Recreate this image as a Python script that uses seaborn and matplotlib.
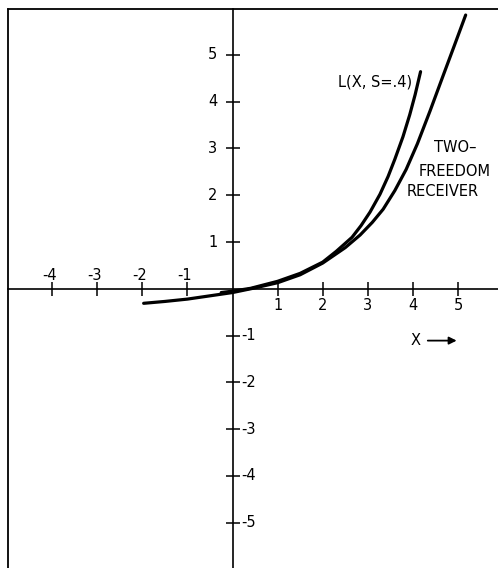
import matplotlib
matplotlib.use("Agg")
import matplotlib.pyplot as plt
import seaborn as sns
import pandas as pd

# Two-freedom receiver curve
tf_x = [-1.97, -1.5, -1.0, -0.5, 0.0, 0.5, 1.0, 1.5, 2.0, 2.5, 2.83, 3.1, 3.34,
        3.6, 3.85, 4.1, 4.38, 4.68, 4.92, 5.17]
tf_y = [-0.31, -0.27, -0.22, -0.15, -0.08, 0.02, 0.13, 0.30, 0.55, 0.88, 1.15,
        1.42, 1.70, 2.10, 2.55, 3.10, 3.80, 4.58, 5.20, 5.85]

# L(X, S=.4) curve
l_x = [-0.25, 0.0, 0.4, 1.0, 1.5, 2.0, 2.3, 2.65, 2.85, 3.05, 3.27, 3.45, 3.6,
       3.78, 3.93, 4.05, 4.17]
l_y = [-0.08, -0.05, 0.01, 0.16, 0.33, 0.57, 0.80, 1.10, 1.35, 1.64, 2.02,
       2.40, 2.77, 3.25, 3.72, 4.15, 4.64]

x_ticks = [-4, -3, -2, -1, 1, 2, 3, 4, 5]
y_ticks = [-5, -4, -3, -2, -1, 1, 2, 3, 4, 5]
x_tick_labels = ["-4", "-3", "-2", "-1", "1", "2", "3", "4", "5"]
y_tick_labels = ["-5", "-4", "-3", "-2", "-1", "1", "2", "3", "4", "5"]

curves = pd.concat([
    pd.DataFrame({"x": tf_x, "y": tf_y, "curve": "two-freedom"}),
    pd.DataFrame({"x": l_x, "y": l_y, "curve": "L"}),
], ignore_index=True)

sns.set_theme(style="white")
plt.rcParams["font.family"] = ["DejaVu Sans"]
plt.rcParams["text.color"] = "black"

W, H = 498, 568
fig = plt.figure(figsize=(W / 100, H / 100), dpi=100)
ax = fig.add_axes([8 / W, 0, (W - 8) / W, (H - 9) / H])

for name in ["two-freedom", "L"]:
    sns.lineplot(data=curves[curves["curve"] == name], x="x", y="y", ax=ax,
                 color="black", lw=2.3, sort=False, estimator=None,
                 legend=False, solid_joinstyle="round", solid_capstyle="round")

ax.set_xlim(-4.978, 5.887)
ax.set_ylim(-5.966, 5.979)
ax.set_xlabel("")
ax.set_ylabel("")

# axes crossing at the origin
for side in ["left", "bottom"]:
    ax.spines[side].set_position(("data", 0))
    ax.spines[side].set_linewidth(1.2)
    ax.spines[side].set_color("black")
ax.spines["right"].set_visible(False)
ax.spines["top"].set_visible(True)
ax.spines["top"].set_linewidth(1.3)
ax.spines["top"].set_color("black")
# outer frame on the left
ax.plot([0, 0], [0, 1], transform=ax.transAxes, color="black", lw=1.3,
        clip_on=False)

ax.xaxis.set_ticks_position("bottom")
ax.yaxis.set_ticks_position("left")
ax.set_xticks(x_ticks)
ax.set_yticks(y_ticks)
ax.tick_params(axis="both", direction="inout", length=10, width=1.1,
               color="black", labelbottom=False, labelleft=False)

fs = 10.5
for v, lab in zip(x_ticks, x_tick_labels):
    if v < 0:
        ax.annotate(lab, (v, 0), xytext=(-3, 13), textcoords="offset pixels",
                    ha="center", va="center", fontsize=fs, color="black")
    else:
        ax.annotate(lab, (v, 0), xytext=(0, -17), textcoords="offset pixels",
                    ha="center", va="center", fontsize=fs, color="black")
for v, lab in zip(y_ticks, y_tick_labels):
    if v > 0:
        ax.annotate(lab, (0, v), xytext=(-15, 0), textcoords="offset pixels",
                    ha="right", va="center", fontsize=fs, color="black")
    else:
        ax.annotate(lab, (0, v), xytext=(9, 0), textcoords="offset pixels",
                    ha="left", va="center", fontsize=fs, color="black")

ax.text(3.99, 4.41, "L(X, S=.4)", ha="right", va="center", fontsize=fs)
ax.text(4.95, 3.03, "TWO\u2013", ha="center", va="center", fontsize=fs)
ax.text(4.92, 2.50, "FREEDOM", ha="center", va="center", fontsize=fs)
ax.text(4.66, 2.07, "RECEIVER", ha="center", va="center", fontsize=fs)

ax.text(4.05, -1.107, "X", ha="center", va="center", fontsize=fs)
ax.annotate("", xy=(4.97, -1.107), xytext=(4.33, -1.107),
            arrowprops=dict(arrowstyle="-|>", lw=1.3, color="black",
                            mutation_scale=11, shrinkA=0, shrinkB=0))

fig.savefig("out.png", dpi=100)
